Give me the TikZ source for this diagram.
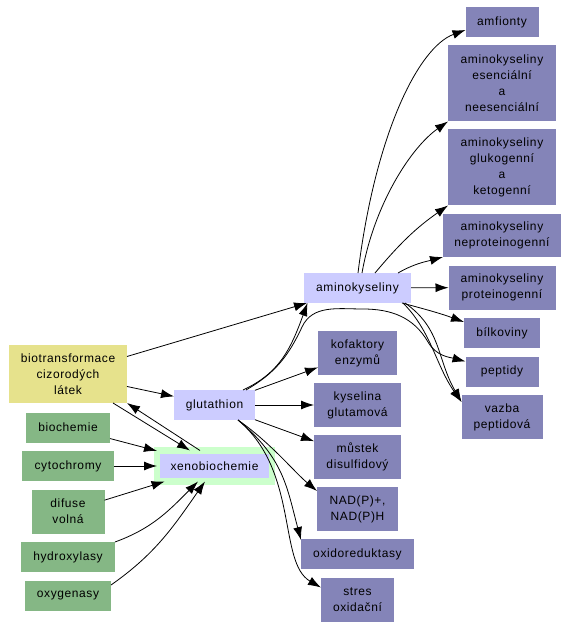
\documentclass[tikz,border=0pt]{standalone}
\usepackage{fontspec}
\newfontfamily\mapfont[LetterSpace=5]{Liberation Sans}
\usepackage{tikz}
\usetikzlibrary{positioning,arrows.meta}
\definecolor{leafblue}{RGB}{132,132,184}
\definecolor{hubblue}{RGB}{204,204,255}
\definecolor{srcgreen}{RGB}{133,183,133}
\definecolor{rootyellow}{RGB}{230,226,140}
\definecolor{xenogreen}{RGB}{204,255,204}

\begin{document}
\begin{tikzpicture}[x=1pt, y=1pt, >={Latex[length=13pt,width=9pt]},
    every node/.style={font=\mapfont\fontsize{12}{16}\selectfont, align=center, inner sep=0pt, outer sep=0pt},
    leaf/.style={rectangle, fill=leafblue},
    hub/.style={rectangle, fill=hubblue},
    src/.style={rectangle, fill=srcgreen},
    link/.style={->, draw=black, line width=0.8pt}]
		\useasboundingbox (0,0) rectangle (570,-628);

		% aminokyseliny a jejich listy
		\node[hub, minimum width=107, minimum height=30] (aminok) at (357.5,-288) {aminokyseliny};
		\node[leaf, minimum width=73, minimum height=30] (amfionty) at (502,-22) {amfionty};
		\node[leaf, minimum width=108, minimum height=76, below=8.5pt of amfionty] (esen) {aminokyseliny\\esenciální\\a\\neesenciální};
		\node[leaf, minimum width=108, minimum height=76, below=8pt of esen] (gluk) {aminokyseliny\\glukogenní\\a\\ketogenní};
		\node[leaf, minimum width=118, minimum height=43, below=8.5pt of gluk] (neprot) {aminokyseliny\\neproteinogenní};
		\node[leaf, minimum width=107, minimum height=44, below=8.5pt of neprot] (prot) {aminokyseliny\\proteinogenní};
		\node[leaf, minimum width=76, minimum height=30, below=8.5pt of prot] (bilk) {bílkoviny};
		\node[leaf, minimum width=73, minimum height=30, below=8.5pt of bilk] (peptidy) {peptidy};
		\node[leaf, minimum width=81, minimum height=44, below=8.5pt of peptidy] (vazba) {vazba\\peptidová};

		% glutathion
		\node[hub, minimum width=81, minimum height=30] (glut) at (214.5,-405) {glutathion};
		\node[leaf, minimum width=79, minimum height=44] (kofaktory) at (357.5,-353) {kofaktory\\enzymů};
		\node[leaf, minimum width=87, minimum height=44, below=8pt of kofaktory] (kyselina) {kyselina\\glutamová};
		\node[leaf, minimum width=87, minimum height=44, below=8pt of kyselina] (mustek) {můstek\\disulfidový};
		\node[leaf, minimum width=81, minimum height=44, below=8pt of mustek] (nad) {NAD(P)+,\\NAD(P)H};
		\node[leaf, minimum width=113, minimum height=30, below=8pt of nad] (oxidored) {oxidoreduktasy};
		\node[leaf, minimum width=73, minimum height=44, below=8.5pt of oxidored] (stres) {stres\\oxidační};

		% xenobiochemie
		\node[rectangle, fill=rootyellow, minimum width=118, minimum height=58] (biotrans) at (68,-374) {biotransformace\\cizorodých\\látek};
		\node[hub, draw=xenogreen, line width=6.5pt, minimum width=115, minimum height=31] (xeno) at (214.5,-466) {xenobiochemie};
		\node[src, minimum width=84, minimum height=30, below=9.5pt of biotrans] (biochemie) {biochemie};
		\node[src, minimum width=92, minimum height=30, below=8.5pt of biochemie] (cytochromy) {cytochromy};
		\node[src, minimum width=73, minimum height=44, below=8.5pt of cytochromy] (difuse) {difuse\\volná};
		\node[src, minimum width=94, minimum height=30, below=8.5pt of difuse] (hydroxylasy) {hydroxylasy};
		\node[src, minimum width=86, minimum height=30, below=9pt of hydroxylasy] (oxygenasy) {oxygenasy};

		\path (biotrans) edge[link] (aminok);
		\path (biotrans) edge[link] (glut);
		\path ([xshift=-14pt]biotrans.south east) edge[link] ([xshift=-24.5pt]xeno.north);
		\path ([xshift=-14.5pt]xeno.north) edge[link] (biotrans.south east);

		\path (biochemie) edge[link] (xeno);
		\path (cytochromy) edge[link] (xeno);
		\path (difuse) edge[link] (xeno);
		\path (hydroxylasy.north east) edge[link, out=20, in=225] ([xshift=-16.5pt]xeno.south);
		\path ([yshift=-4pt]oxygenasy.north east) edge[link, out=35, in=235] ([xshift=-9.5pt]xeno.south);

		\path ([xshift=28.5pt]glut.north) edge[link, out=25, in=250, out distance=40pt, in distance=50pt] ([xshift=-50pt]aminok.south);
		\draw[link] ([xshift=31.5pt]glut.north) to[out=30, in=245] (302,-327) to[out=65, in=180] (363,-309)
			to[out=0, in=120] (428,-342) to[out=-60, in=165] ([yshift=10pt]peptidy.west);
		\path (glut) edge[link] (kofaktory);
		\path (glut) edge[link] (kyselina);
		\path (glut) edge[link] (mustek);
		\path ([xshift=23.5pt]glut.south) edge[link, out=-35, in=140, out distance=40pt, in distance=30pt] ([yshift=-4pt]nad.north west);
		\path ([xshift=23.5pt]glut.south) edge[link, out=-40, in=105, out distance=60pt, in distance=55pt] ([yshift=-1pt]oxidored.north west);
		\path ([xshift=23.5pt]glut.south) edge[link, out=-40, in=150, out distance=80pt, in distance=50pt] ([yshift=-10pt]stres.north west);

		\path ([xshift=0.5pt]aminok.north) edge[link, out=83, in=200, out distance=140pt, in distance=50pt] ([yshift=-8pt]amfionty.west);
		\path ([xshift=4.5pt]aminok.north) edge[link, out=80, in=215, out distance=70pt, in distance=45pt] (esen.south west);
		\path ([xshift=17.5pt]aminok.north) edge[link, out=50, in=215] (gluk.south west);
		\path ([xshift=-13pt]aminok.north east) edge[link, out=30, in=195] (neprot.south west);
		\path (aminok) edge[link] (prot);
		\path ([xshift=-9pt]aminok.south east) edge[link, out=-15, in=160] ([yshift=11pt]bilk.west);
		\path ([xshift=-8pt]aminok.south east) edge[link, out=-45, in=125, out distance=40pt, in distance=45pt] ([yshift=15pt]vazba.west);
		\path ([xshift=-6pt]aminok.south east) edge[link, out=-35, in=120, out distance=45pt, in distance=50pt] ([yshift=15pt]vazba.west);
	\end{tikzpicture}
\end{document}
